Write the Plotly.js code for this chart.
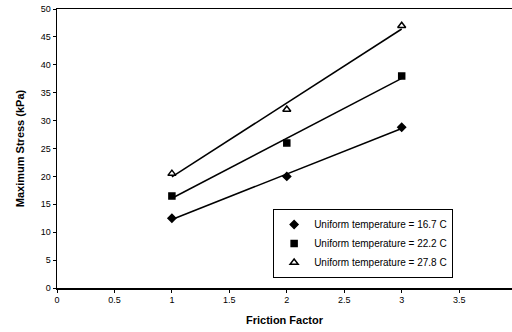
<!DOCTYPE html>
<html>
<head>
<meta charset="utf-8">
<script src="https://cdn.plot.ly/plotly-3.0.1.min.js"></script>
<style>
  html, body { margin: 0; padding: 0; background: #fff; }
  #chart { width: 512px; height: 332px; }
</style>
</head>
<body>
<div id="chart"></div>
<script>
// Friction factor vs. maximum stress for three uniform temperatures
const frictionFactor = [1, 2, 3];
const stress167 = [12.5, 20, 28.8];
const stress222 = [16.5, 26, 38];
const stress278 = [20.5, 32, 47];
const seriesNames = [
  'Uniform temperature = 16.7 C',
  'Uniform temperature = 22.2 C',
  'Uniform temperature = 27.8 C'
];
const xTicks = [0, 0.5, 1, 1.5, 2, 2.5, 3, 3.5];
const yTicks = [0, 5, 10, 15, 20, 25, 30, 35, 40, 45, 50];

// least-squares linear trendline through a series
function trend(xs, ys) {
  const n = xs.length;
  const mx = xs.reduce((a, b) => a + b, 0) / n;
  const my = ys.reduce((a, b) => a + b, 0) / n;
  let sxy = 0, sxx = 0;
  for (let i = 0; i < n; i++) {
    sxy += (xs[i] - mx) * (ys[i] - my);
    sxx += (xs[i] - mx) * (xs[i] - mx);
  }
  const m = sxy / sxx, b = my - m * mx;
  return xs.map(x => m * x + b);
}

const series = [
  { y: stress167, symbol: 'diamond', size: 6 },
  { y: stress222, symbol: 'square', size: 6 },
  { y: stress278, symbol: 'triangle-up-open', size: 7 }
];

const traces = [];
series.forEach((s, i) => {
  traces.push({
    x: frictionFactor, y: trend(frictionFactor, s.y),
    mode: 'lines', line: { color: '#000', width: 1.5 },
    showlegend: false, hoverinfo: 'skip'
  });
});
series.forEach((s, i) => {
  traces.push({
    x: frictionFactor, y: s.y, name: seriesNames[i],
    mode: 'markers',
    marker: { symbol: s.symbol, size: s.size, color: '#000',
              line: { color: '#000', width: 1.5 } }
  });
});

const layout = {
  width: 512, height: 332,
  margin: { l: 57, r: 0, t: 9, b: 44 },
  paper_bgcolor: '#fff', plot_bgcolor: '#fff',
  font: { family: 'Liberation Sans, Arial, sans-serif', color: '#000', size: 9 },
  showlegend: true,
  legend: {
    x: 0.475, y: 0.283, xanchor: 'left', yanchor: 'top',
    bordercolor: '#000', borderwidth: 1, bgcolor: '#fff',
    font: { size: 10 }, tracegroupgap: 0, itemwidth: 30
  },
  xaxis: {
    range: [0, 3.96], tickvals: xTicks, ticktext: xTicks.map(String),
    showgrid: false, zeroline: false,
    showline: true, linecolor: '#000', linewidth: 1.5, mirror: true,
    ticks: 'outside', ticklen: 3, tickcolor: '#000',
    tickfont: { size: 9 },
    title: { text: '<b>Friction Factor</b>', font: { size: 11 }, standoff: 12 }
  },
  yaxis: {
    range: [0, 50], tickvals: yTicks, ticktext: yTicks.map(String),
    showgrid: false, zeroline: false,
    showline: true, linecolor: '#000', linewidth: 1.5,
    ticks: 'outside', ticklen: 3, tickcolor: '#000',
    tickfont: { size: 9 },
    title: { text: '<b>Maximum Stress (kPa)</b>', font: { size: 11 }, standoff: 14 }
  }
};

Plotly.newPlot('chart', traces, layout, { staticPlot: true, displayModeBar: false });
</script>
</body>
</html>
